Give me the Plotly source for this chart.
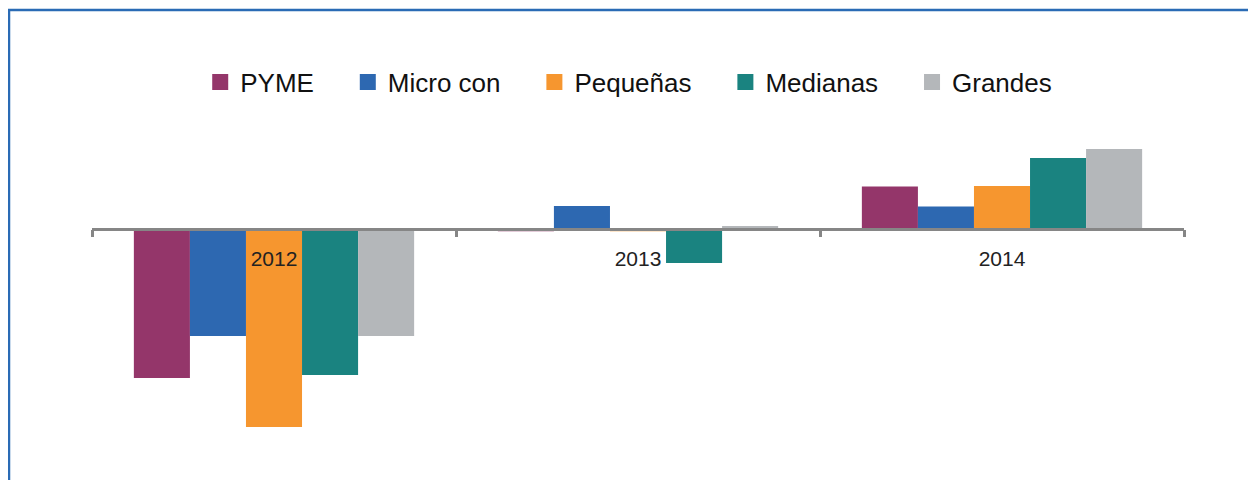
import plotly.graph_objects as go

# Data (arbitrary units)
years = ["2012", "2013", "2014"]
series_names = ["PYME", "Micro con", "Pequeñas", "Medianas", "Grandes"]
pyme = [-14.95, -0.28, 4.2]
micro_con = [-10.75, 2.25, 2.2]
pequenas = [-19.85, -0.28, 4.25]
medianas = [-14.65, -3.45, 7.05]
grandes = [-10.75, 0.25, 7.95]

series_values = [pyme, micro_con, pequenas, medianas, grandes]
colors = ["#94366A", "#2D68B1", "#F6962F", "#1A8380", "#B4B7BA"]

# the page body adds an 8px offset, so the figure is drawn 8px smaller
W, H = 1248, 472
ml, mr, mt, mb = 84, 72, 112, 10
ymin, ymax = -24.15, 10.85

fig = go.Figure()
pad = "\u00a0" * 4
for i, (name, vals, col) in enumerate(zip(series_names, series_values, colors)):
    label = name + (pad if i < len(series_names) - 1 else "")
    fig.add_trace(go.Bar(x=years, y=vals, name=name, legendgroup=name, showlegend=False,
                         marker=dict(color=col, line=dict(width=0))))
    # legend entry with a larger square swatch
    fig.add_trace(go.Scatter(x=[None], y=[None], mode="markers", name=label, legendgroup=name,
                             marker=dict(symbol="square", size=16, color=col), hoverinfo="skip"))

plot_w = W - ml - mr
plot_h = H - mt - mb
zero_pos = (0 - ymin) / (ymax - ymin)

fig.update_layout(
    width=W, height=H,
    margin=dict(l=ml, r=mr, t=mt, b=mb),
    paper_bgcolor="white", plot_bgcolor="white",
    barmode="group", bargap=0.23, bargroupgap=0,
    font=dict(family="Liberation Sans, Arial, sans-serif", color="#111111"),
    showlegend=True,
    legend=dict(orientation="h", x=0.4915, xanchor="center", y=1.0 + (mt - 74) / plot_h, yanchor="middle",
                font=dict(size=26, color="#111111"), bgcolor="rgba(0,0,0,0)", itemsizing="trace"),
    xaxis=dict(type="category", anchor="free", position=zero_pos,
               showline=True, linecolor="#868686", linewidth=2.5,
               ticks="outside", ticklen=7, tickwidth=2.5, tickcolor="#868686",
               tickson="boundaries", showgrid=False, zeroline=False,
               tickfont=dict(size=21, color="#222222"), ticklabelstandoff=11),
    yaxis=dict(range=[ymin, ymax], visible=False, showgrid=False, zeroline=False),
)

# frame border (left and top visible in the reference)
x0 = (1 - ml) / plot_w
x1 = (W + 10 - ml) / plot_w
y1 = (H - mb - 2) / plot_h
y0 = (H - mb - (H + 10)) / plot_h
fig.add_shape(type="rect", xref="paper", yref="paper", x0=x0, x1=x1, y0=y0, y1=y1,
              line=dict(color="#2A6BB5", width=2.5), fillcolor="rgba(0,0,0,0)", layer="above")

fig.write_html("out.html")
